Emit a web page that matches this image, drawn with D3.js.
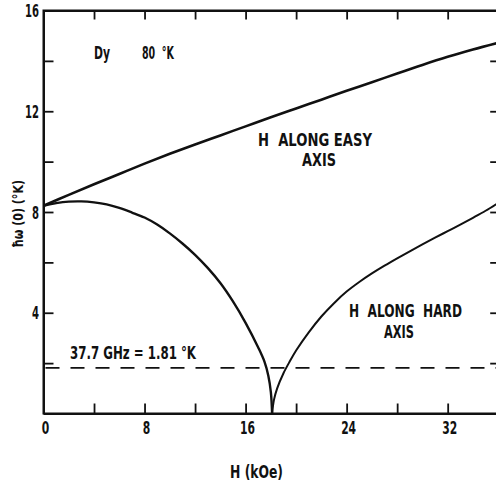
<!DOCTYPE html>
<html><head><meta charset="utf-8">
<script src="https://cdn.jsdelivr.net/npm/d3@7"></script>
<style>
html,body{margin:0;padding:0;background:#fff;}
text{font-family:"DejaVu Sans Condensed","DejaVu Sans",sans-serif;font-weight:bold;fill:#111;white-space:pre;}
</style></head><body>
<svg id="c" width="496" height="485"></svg>
<script>
// ---- data ----
const xTickValues = [0, 8, 16, 24, 32];
const yTickValues = [4, 8, 12, 16];
const easyH = [0, 2, 4, 6, 8, 10, 12, 14, 16, 18, 20, 22, 24, 26, 28, 30, 32, 34, 36];
const easyW = [8.25, 8.68, 9.1, 9.51, 9.92, 10.31, 10.68, 11.04, 11.4, 11.76, 12.11, 12.46, 12.81, 13.15, 13.5, 13.84, 14.16, 14.45, 14.72];
const hardLeftH = [0, 1, 2, 3, 4, 5, 6, 7, 8, 9, 10, 11, 12, 13, 14, 15, 16, 17, 17.5, 17.8, 18.0, 18.1];
const hardLeftW = [8.25, 8.35, 8.41, 8.42, 8.38, 8.3, 8.16, 7.98, 7.78, 7.5, 7.15, 6.75, 6.3, 5.78, 5.18, 4.45, 3.6, 2.62, 2.05, 1.5, 0.85, 0];
const hardRightH = [18.1, 18.25, 18.5, 19, 19.5, 20, 21, 22, 23, 24, 25, 26, 27, 28, 29, 30, 31, 32, 33, 34, 35, 36];
const hardRightW = [0, 0.55, 1.0, 1.6, 2.07, 2.5, 3.22, 3.85, 4.38, 4.84, 5.22, 5.56, 5.87, 6.16, 6.44, 6.71, 6.98, 7.24, 7.5, 7.77, 8.05, 8.36];
const microwaveLevel = 1.81;

const svg = d3.select("#c");
const x = d3.scaleLinear().domain([0, 36]).range([43.5, 498.2]);
const y = d3.scaleLinear().domain([0, 16]).range([413.5, 10.5]);

svg.append("defs").append("clipPath").attr("id","clip")
  .append("rect").attr("x",x(0)).attr("y",y(16)).attr("width",x(36)-x(0)).attr("height",y(0)-y(16));

// frame
svg.append("rect").attr("x",x(0)).attr("y",y(16)).attr("width",x(36)-x(0)).attr("height",y(0)-y(16))
  .attr("fill","none").attr("stroke","#111").attr("stroke-width",2);

// axes with inward ticks
const minorX = d3.range(0, 37, 4);
const minorY = d3.range(0, 17, 2);
const gB = svg.append("g").attr("transform",`translate(0,${y(0)})`)
  .call(d3.axisBottom(x).tickValues(minorX).tickSizeInner(-10).tickSizeOuter(0).tickFormat(""));
const gT = svg.append("g").attr("transform",`translate(0,${y(16)})`)
  .call(d3.axisTop(x).tickValues(minorX).tickSizeInner(-9).tickSizeOuter(0).tickFormat(""));
const gL = svg.append("g").attr("transform",`translate(${x(0)},0)`)
  .call(d3.axisLeft(y).tickValues(minorY).tickSizeInner(-10).tickSizeOuter(0).tickFormat(""));
const gR = svg.append("g").attr("transform",`translate(${x(36)},0)`)
  .call(d3.axisRight(y).tickValues(minorY).tickSizeInner(-8).tickSizeOuter(0).tickFormat(""));
[gB,gT,gL,gR].forEach(g=>{
  g.select(".domain").attr("stroke","#111").attr("stroke-width",2);
  g.selectAll(".tick line").attr("stroke","#111").attr("stroke-width",1.8);
});

// tick labels (narrow lettering)
svg.append("g").selectAll("text").data(xTickValues).join("text")
  .attr("x",d=>x(d)+2).attr("y",434).attr("text-anchor","middle")
  .style("font-size","17px").attr("textLength",d=>String(d).length*7.5).attr("lengthAdjust","spacingAndGlyphs").text(d=>d);
svg.append("g").selectAll("text").data(yTickValues).join("text")
  .attr("x",39).attr("y",d=>y(d)+6.5).attr("text-anchor","end")
  .style("font-size","17px").attr("textLength",d=>String(d).length*7).attr("lengthAdjust","spacingAndGlyphs").text(d=>d);

// axis titles
svg.append("text").attr("x",230).attr("y",478)
  .style("font-size","17px").attr("textLength",53).attr("lengthAdjust","spacingAndGlyphs").text("H (kOe)");
svg.append("text").attr("transform","translate(23,248) rotate(-90)")
  .style("font-size","14px").attr("textLength",68).attr("lengthAdjust","spacingAndGlyphs").text("ħω (0) (°K)");

// curves
const line = d3.line().x(d=>x(d[0])).y(d=>y(d[1])).curve(d3.curveCatmullRom.alpha(0.5));
const plot = svg.append("g").attr("clip-path","url(#clip)");
plot.append("path").datum(d3.zip(easyH, easyW)).attr("d",line)
  .attr("fill","none").attr("stroke","#111").attr("stroke-width",2.6);
plot.append("path").datum(d3.zip(hardLeftH, hardLeftW)).attr("d",line)
  .attr("fill","none").attr("stroke","#111").attr("stroke-width",2.4);
plot.append("path").datum(d3.zip(hardRightH, hardRightW)).attr("d",line)
  .attr("fill","none").attr("stroke","#111").attr("stroke-width",2);
plot.append("line").attr("x1",x(0)+2).attr("x2",x(36)).attr("y1",y(microwaveLevel)).attr("y2",y(microwaveLevel))
  .attr("stroke","#111").attr("stroke-width",1.8).attr("stroke-dasharray","14,11");

// annotations
const ann = (t, x0, base, w) => svg.append("text").attr("x",x0).attr("y",base)
  .style("font-size","17px").attr("textLength",w).attr("lengthAdjust","spacingAndGlyphs").text(t);
ann("Dy", 94, 59, 16);
ann("80  °K", 142, 59, 32);
ann("H  ALONG EASY", 258, 146, 114);
ann("AXIS", 302, 166, 34);
ann("H  ALONG  HARD", 349, 317, 113);
ann("AXIS", 384, 338, 30);
ann("37.7 GHz = 1.81 °K", 70, 359, 126);
</script></body></html>
